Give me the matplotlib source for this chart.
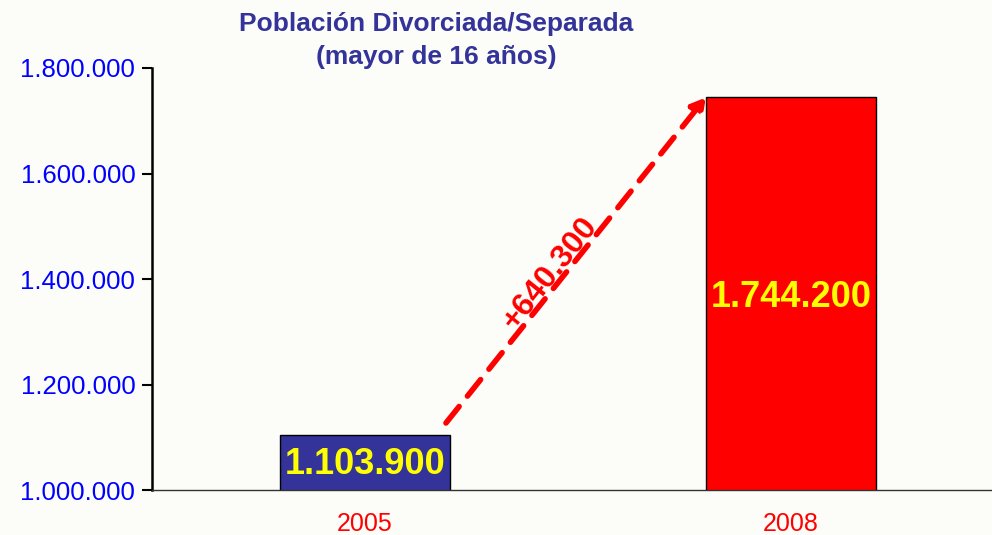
import matplotlib
matplotlib.use('Agg')
import matplotlib.pyplot as plt
import numpy as np

years = ['2005', '2008']
poblacion = [1103900, 1744200]
bar_colors = ['#333399', '#FF0000']
yticks = [1000000, 1200000, 1400000, 1600000, 1800000]


def fmt_es(v):
    return '{:,}'.format(v).replace(',', '.')


def main():
    plt.rcParams['font.family'] = ['Liberation Sans', 'DejaVu Sans']
    bg = '#FCFCF8'
    fig = plt.figure(figsize=(9.92, 5.35), dpi=100, facecolor=bg)
    ax = fig.add_axes([0.1532, 0.0841, 0.859, 0.7888], facecolor=bg)

    ind = np.arange(len(years))
    ax.bar(ind, poblacion, width=0.4, color=bar_colors, edgecolor='black',
           linewidth=1, bottom=0, zorder=2)
    ax.set_ylim(1000000, 1800000)
    ax.set_xlim(-0.5, 1.5)

    ax.set_yticks(yticks)
    ax.set_yticklabels([fmt_es(v) for v in yticks], color='#0000FF', fontsize=18.5)
    ax.tick_params(axis='y', direction='out', length=7, width=1.5, pad=5)
    ax.set_xticks(ind)
    ax.set_xticklabels(years, color='#FF0000', fontsize=18)
    ax.tick_params(axis='x', length=0, pad=16)

    for s in ['top', 'right']:
        ax.spines[s].set_visible(False)
    ax.spines['left'].set_linewidth(1.8)
    ax.spines['bottom'].set_linewidth(1)
    ax.spines['bottom'].set_color('#333333')

    # value labels
    ax.text(ind[0], 1000000 + (poblacion[0] - 1000000) / 2 - 3000, fmt_es(poblacion[0]),
            ha='center', va='center', color='#FFFF00', fontsize=26, fontweight='bold', zorder=3)
    ax.text(ind[1], 1364000, fmt_es(poblacion[1]),
            ha='center', va='center', color='#FFFF00', fontsize=26, fontweight='bold', zorder=3)

    # arrow with the difference
    diff = poblacion[1] - poblacion[0]
    ax.annotate('', xy=(0.8, poblacion[1]), xytext=(0.19, 1127000),
                arrowprops=dict(arrowstyle='-|>,head_length=0.8,head_width=0.45',
                                color='#FF0000', lw=4, linestyle=(0, (3.8, 2.4)),
                                shrinkA=0, shrinkB=0), zorder=4)
    ax.text(0.435, 1410000, '+' + fmt_es(diff), rotation=51.5, ha='center', va='center',
            color='#FF0000', fontsize=23, fontweight='bold', rotation_mode='anchor', zorder=5)

    fig.text(0.44, 0.955, 'Población Divorciada/Separada', ha='center', va='center',
             color='#333399', fontsize=19, fontweight='bold')
    fig.text(0.44, 0.893, '(mayor de 16 años)', ha='center', va='center',
             color='#333399', fontsize=19, fontweight='bold')

    fig.savefig('out.png', dpi=100, facecolor=bg)


if __name__ == '__main__':
    main()
